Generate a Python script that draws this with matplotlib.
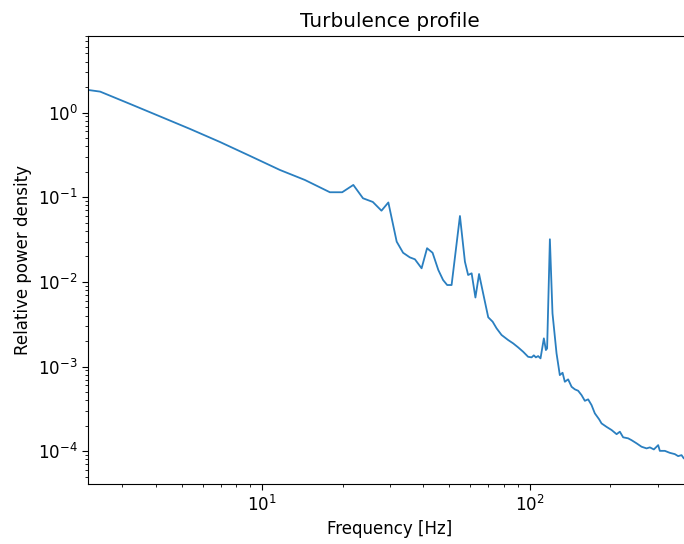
import matplotlib
matplotlib.use("Agg")
import matplotlib.pyplot as plt

# Frequency [Hz] and relative power density
freq = [2.24, 2.48, 3.20, 4.15, 5.37, 6.95, 9.00, 11.65, 14.44, 17.9,
        19.9, 21.9, 23.8, 25.9, 27.9, 29.6, 31.8, 33.6, 35.6, 37.2,
        39.4, 41.3, 43.3, 45.5, 47.4, 49.1, 51.0, 54.8, 57.2, 58.8,
        60.6, 62.6, 64.6, 66.9, 69.9, 72.6, 75.1, 78.4, 83.0, 86.6,
        90.4, 94.4, 98.5, 101.5, 103.5, 105.3, 107.4, 109.6, 112.8, 114.8,
        116.0, 118.8, 121.5, 125.8, 129.4, 132.5, 135.1, 139.0, 143.2, 147.3,
        151.5, 156.0, 160.5, 165.1, 170.0, 174.9, 181.5, 185.3, 193.4, 202.0,
        210.9, 216.9, 223.1, 232.9, 239.9, 250.4, 261.4, 272.9, 280.8, 290.6,
        301.6, 305.9, 319.4, 333.4, 348.1, 358.1, 368.8, 376.1, 390.0, 400.0]
psd = [1.85, 1.77, 1.27, 0.902, 0.642, 0.450, 0.308, 0.210, 0.160, 0.1146,
       0.1146, 0.1398, 0.0973, 0.0880, 0.0694, 0.0868, 0.0299, 0.0221, 0.0195, 0.0185,
       0.01448, 0.0250, 0.0221, 0.01382, 0.01053, 0.00919, 0.00919, 0.0601, 0.01733, 0.01207,
       0.01264, 0.00654, 0.0124, 0.00733, 0.00382, 0.00339, 0.00283, 0.00236, 0.002056, 0.00188,
       0.001686, 0.001496, 0.001305, 0.001284, 0.001357, 0.001284, 0.00133, 0.00125, 0.002154, 0.001567,
       0.00164, 0.0319, 0.00425, 0.001432, 0.000793, 0.000845, 0.000661, 0.000706, 0.000577, 0.000538,
       0.000518, 0.00046, 0.000394, 0.00041, 0.000351, 0.00028, 0.000238, 0.000213, 0.000194, 0.000178,
       0.000159, 0.00017, 0.000146, 0.000142, 0.000135, 0.000124, 0.000113, 0.000108, 0.000111, 0.000105,
       0.000118, 0.000101, 0.000101, 9.57e-5, 9.24e-5, 8.75e-5, 8.99e-5, 8.22e-5, 8.4e-5, 8.1e-5]

plt.rcParams["font.size"] = 12
plt.rcParams["axes.titlesize"] = 14.4
plt.rcParams["xtick.major.size"] = 4.2
plt.rcParams["ytick.major.size"] = 4.2
plt.rcParams["xtick.minor.size"] = 2.4
plt.rcParams["ytick.minor.size"] = 2.4

fig = plt.figure(figsize=(6.84, 5.44), dpi=100)
# axes run a little past the right edge, as in the cropped reference
ax = fig.add_axes([88.3 / 684, 60 / 544, (691 - 88.3) / 684, 448.3 / 544])

ax.loglog(freq, psd, color="#2a7fc0", linewidth=1.3)
ax.set_xlim(2.24, 400)
ax.set_ylim(4.1e-5, 8.1)
ax.set_xlabel("Frequency [Hz]")
ax.set_ylabel("Relative power density")
ax.set_title("Turbulence profile")

fig.savefig("out.png", dpi=100)
